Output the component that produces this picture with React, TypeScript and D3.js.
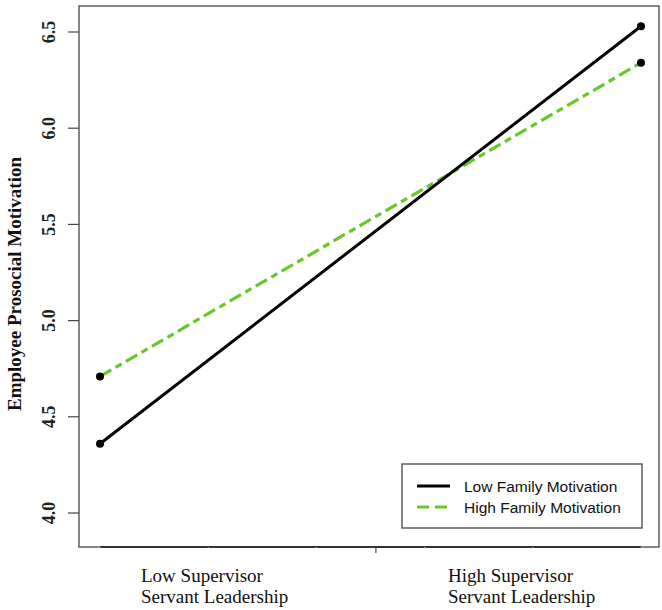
import React, { useEffect, useRef } from 'react';
import * as d3 from 'd3';

// Simple slopes plot values
const levels = ['Low Supervisor\nServant Leadership', 'High Supervisor\nServant Leadership'];
const lowFamily = [4.36, 6.53];
const highFamily = [4.71, 6.34];
const yTicks = [4.0, 4.5, 5.0, 5.5, 6.0, 6.5];
const seriesNames = ['Low Family Motivation', 'High Family Motivation'];

const GREEN = '#68c72a';

function App() {
  const svgRef = useRef<SVGSVGElement>(null);

  useEffect(() => {
    const svg = d3.select(svgRef.current);
    svg.selectAll('*').remove();

    const width = 662;
    const height = 610;

    const x = d3.scaleLinear().domain([0, 1]).range([100, 641]);
    const y = d3.scaleLinear().domain([4.0, 6.5]).range([513, 32]);

    const box = { left: 79, right: 659, top: 6, bottom: 547 };

    svg.attr('width', width).attr('height', height);

    svg.append('rect')
      .attr('width', width)
      .attr('height', height)
      .attr('fill', '#fff');

    // plot border
    svg.append('rect')
      .attr('x', box.left)
      .attr('y', box.top)
      .attr('width', box.right - box.left)
      .attr('height', box.bottom - box.top)
      .attr('fill', 'none')
      .attr('stroke', '#444')
      .attr('stroke-width', 1.3);

    // y axis ticks + labels
    const yAxis = svg.append('g');
    yTicks.forEach(t => {
      yAxis.append('line')
        .attr('x1', box.left - 11)
        .attr('x2', box.left)
        .attr('y1', y(t))
        .attr('y2', y(t))
        .attr('stroke', '#444')
        .attr('stroke-width', 1.2);
      yAxis.append('text')
        .attr('transform', `translate(55,${y(t)}) rotate(-90)`)
        .attr('text-anchor', 'middle')
        .attr('font-family', '"Liberation Serif", "Times New Roman", serif')
        .attr('font-weight', 'bold')
        .attr('font-size', 18)
        .attr('fill', '#222')
        .text(t.toFixed(1));
    });

    svg.append('text')
      .attr('transform', `translate(21,${284}) rotate(-90)`)
      .attr('text-anchor', 'middle')
      .attr('font-family', '"Liberation Serif", "Times New Roman", serif')
      .attr('font-weight', 'bold')
      .attr('font-size', 19)
      .attr('fill', '#111')
      .text('Employee Prosocial Motivation');

    // x axis
    svg.append('line')
      .attr('x1', x(0))
      .attr('x2', x(1))
      .attr('y1', box.bottom)
      .attr('y2', box.bottom)
      .attr('stroke', '#333')
      .attr('stroke-width', 2);

    d3.range(0, 1.01, 0.2).forEach(t => {
      svg.append('line')
        .attr('x1', x(t))
        .attr('x2', x(t))
        .attr('y1', box.bottom)
        .attr('y2', box.bottom + 1.5)
        .attr('stroke', '#bbb')
        .attr('stroke-width', 1);
    });
    svg.append('line')
      .attr('x1', x(0.51))
      .attr('x2', x(0.51))
      .attr('y1', box.bottom)
      .attr('y2', box.bottom + 6)
      .attr('stroke', '#444')
      .attr('stroke-width', 1.2);

    const labelX = [141, 448];
    levels.forEach((lab, i) => {
      const t = svg.append('text')
        .attr('font-family', '"Liberation Serif", "Times New Roman", serif')
        .attr('font-size', 19)
        .attr('fill', '#111');
      lab.split('\n').forEach((line, j) => {
        t.append('tspan')
          .attr('x', labelX[i])
          .attr('y', 582 + j * 21)
          .text(line);
      });
    });

    // lines
    const line = d3.line<number>()
      .x((d, i) => x(i))
      .y(d => y(d));

    svg.append('path')
      .datum(highFamily)
      .attr('fill', 'none')
      .attr('stroke', GREEN)
      .attr('stroke-width', 3.2)
      .attr('stroke-dasharray', '13 5 7 5')
      .attr('d', line);

    svg.append('path')
      .datum(lowFamily)
      .attr('fill', 'none')
      .attr('stroke', '#000')
      .attr('stroke-width', 3)
      .attr('d', line);

    [lowFamily, highFamily].forEach(series => {
      svg.selectAll(null)
        .data(series)
        .join('circle')
        .attr('cx', (d, i) => x(i))
        .attr('cy', d => y(d))
        .attr('r', 4)
        .attr('fill', '#000');
    });

    // legend
    const lg = svg.append('g');
    lg.append('rect')
      .attr('x', 402)
      .attr('y', 464)
      .attr('width', 240)
      .attr('height', 64)
      .attr('fill', '#fff')
      .attr('stroke', '#444')
      .attr('stroke-width', 1.3);

    seriesNames.forEach((name, i) => {
      const yy = 486 + i * 21;
      lg.append('line')
        .attr('x1', 417)
        .attr('x2', 450)
        .attr('y1', yy)
        .attr('y2', yy)
        .attr('stroke', i === 0 ? '#000' : GREEN)
        .attr('stroke-width', 3)
        .attr('stroke-dasharray', i === 0 ? null : '12 6');
      lg.append('text')
        .attr('x', 464)
        .attr('y', yy + 5.5)
        .attr('font-family', '"Liberation Sans", Arial, sans-serif')
        .attr('font-size', 15.5)
        .attr('fill', '#111')
        .text(name);
    });
  }, []);

  return (
    <div style={{ position: 'absolute', left: 0, top: 0 }}>
      <svg ref={svgRef} style={{ display: 'block' }}></svg>
    </div>
  );
}

export default App;
